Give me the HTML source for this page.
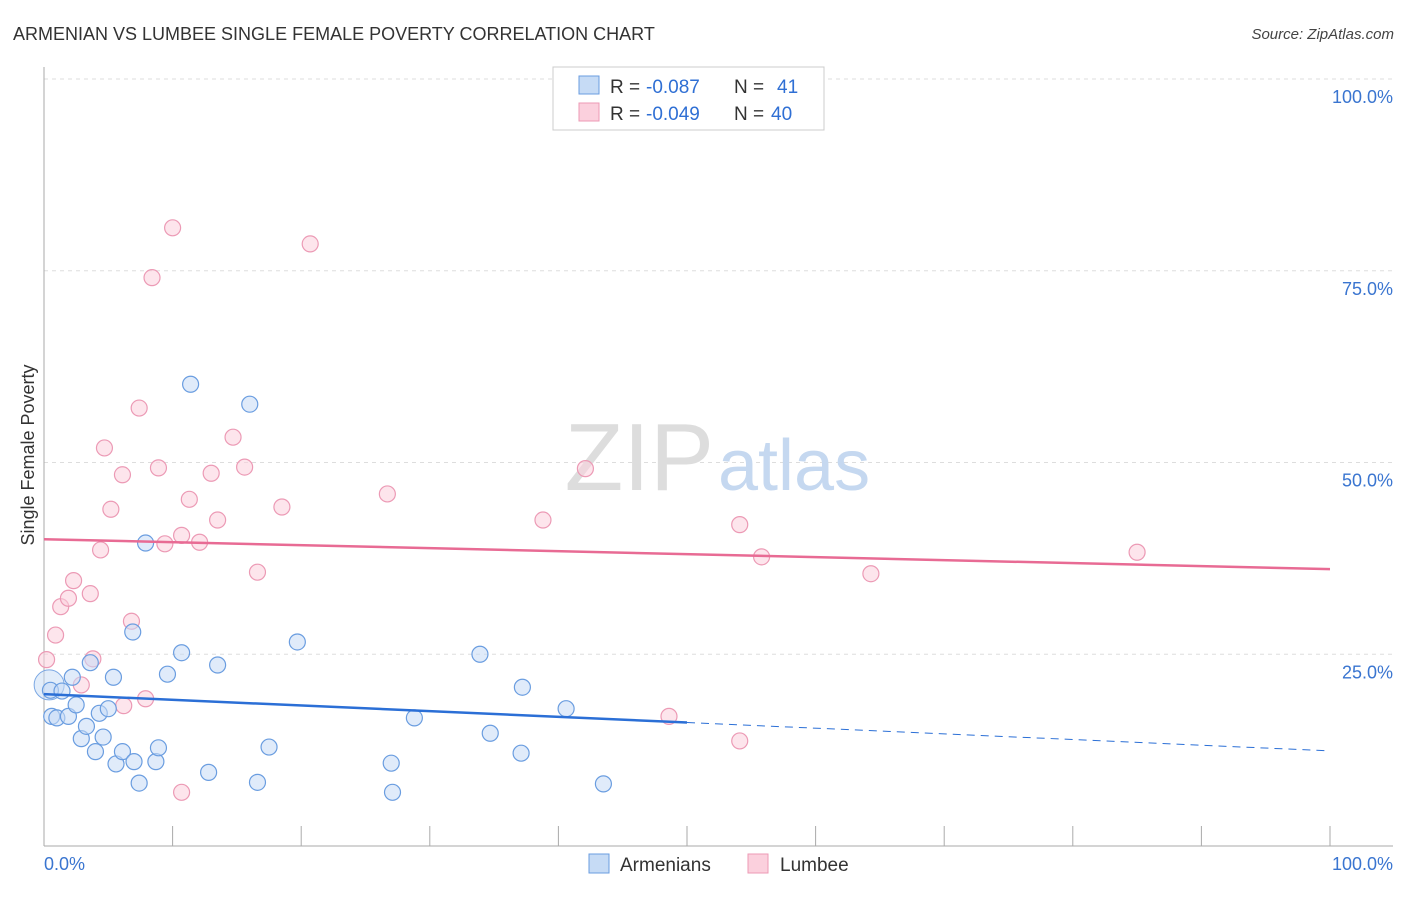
<!DOCTYPE html>
<html><head><meta charset="utf-8"><style>
body{margin:0;background:#fff;font-family:"Liberation Sans",sans-serif;}
svg text{font-family:"Liberation Sans",sans-serif;}
</style></head><body>
<svg id="chart" width="1406" height="892">
<text x="13" y="40" font-size="18" fill="#333">ARMENIAN VS LUMBEE SINGLE FEMALE POVERTY CORRELATION CHART</text>
<text x="1394" y="39" font-size="15" fill="#444" font-style="italic" text-anchor="end">Source: ZipAtlas.com</text>
<g id="grid"></g>
<text x="714" y="490" font-size="96" fill="#ddd" font-family="Liberation Serif" text-anchor="end">ZIP</text>
<text x="718" y="490" font-size="72" fill="#c5d8f0">atlas</text>
<text transform="translate(34,455) rotate(-90)" font-size="18" fill="#333" text-anchor="middle">Single Female Poverty</text>
<g id="marks"></g>
<text x="44" y="870" font-size="18" fill="#3a75d0">0.0%</text>
<text x="1393" y="870" font-size="18" fill="#3a75d0" text-anchor="end">100.0%</text>
<g>
<rect x="553" y="67" width="271" height="63" fill="#fff" stroke="#ccc"/>
<rect x="579" y="76" width="20" height="18" fill="#c6dbf5" stroke="#6a9de0"/>
<rect x="579" y="103" width="20" height="18" fill="#fbd0dd" stroke="#ec9ab5"/>
<text x="610" y="93" font-size="19" fill="#333">R =</text>
<text x="646" y="93" font-size="19" fill="#2f6fd4">-0.087</text>
<text x="734" y="93" font-size="19" fill="#333">N =</text>
<text x="777" y="93" font-size="19" fill="#2f6fd4">41</text>
<text x="610" y="120" font-size="19" fill="#333">R =</text>
<text x="646" y="120" font-size="19" fill="#2f6fd4">-0.049</text>
<text x="734" y="120" font-size="19" fill="#333">N =</text>
<text x="771" y="120" font-size="19" fill="#2f6fd4">40</text>
</g>
<g>
<rect x="589" y="854" width="20" height="19" fill="#c6dbf5" stroke="#6a9de0"/>
<text x="620" y="871" font-size="19" fill="#333">Armenians</text>
<rect x="748" y="854" width="20" height="19" fill="#fbd0dd" stroke="#ec9ab5"/>
<text x="780" y="871" font-size="19" fill="#333">Lumbee</text>
</g>
</svg>
<script>
const yTicks=[25,50,75,100];
const yTickLabels=["25.0%","50.0%","75.0%","100.0%"];
const xTicks=[0,10,20,30,40,50,60,70,80,90,100];
const armX=[0.5,0.6,1.0,1.4,1.9,2.2,2.5,2.9,3.3,3.6,4.0,4.3,4.6,5.0,5.4,5.6,6.1,7.0,6.9,7.4,7.9,8.7,8.9,9.6,10.7,11.4,12.8,13.5,16.0,16.6,17.5,19.7,27.0,27.1,28.8,33.9,34.7,37.1,37.2,40.6,43.5];
const armY=[20.3,16.9,16.7,20.2,16.9,22.0,18.4,14.0,15.6,23.9,12.3,17.3,14.2,17.9,22.0,10.7,12.3,11.0,27.9,8.2,39.5,11.0,12.8,22.4,25.2,60.2,9.6,23.6,57.6,8.3,12.9,26.6,10.8,7.0,16.7,25.0,14.7,12.1,20.7,17.9,8.1];
const lumX=[0.2,0.9,1.3,1.9,2.3,2.9,3.6,3.8,4.4,4.7,5.2,6.1,6.2,6.8,7.4,7.9,8.4,8.9,9.4,10.0,10.7,10.7,11.3,12.1,13.0,13.5,14.7,15.6,16.6,18.5,20.7,26.7,38.8,42.1,48.6,54.1,54.1,55.8,64.3,85.0];
const lumY=[24.3,27.5,31.2,32.3,34.6,21.0,32.9,24.4,38.6,51.9,43.9,48.4,18.3,29.3,57.1,19.2,74.1,49.3,39.4,80.6,40.5,7.0,45.2,39.6,48.6,42.5,53.3,49.4,35.7,44.2,78.5,45.9,42.5,49.2,16.9,41.9,13.7,37.7,35.5,38.3];
const armTrend=[19.8,12.4];
const lumTrend=[40.0,36.1];
const armSolidEnd=50;
const X=v=>44+v*12.86, Y=v=>846-v*7.67;
const NS="http://www.w3.org/2000/svg";
const g=document.getElementById('grid'), m=document.getElementById('marks');
function mk(tag,attrs,parent){const e=document.createElementNS(NS,tag);for(const k in attrs)e.setAttribute(k,attrs[k]);parent.appendChild(e);return e;}
yTicks.forEach((t,i)=>{
 const l=mk('line',{x1:44,x2:1393,y1:Y(t),y2:Y(t),stroke:'#ddd','stroke-dasharray':'4,4'},g);
 
 
 const tx=mk('text',{x:1393,y:Y(t)+24,'font-size':18,fill:'#3a75d0','text-anchor':'end'},g);
 tx.textContent=yTickLabels[i];
 
 
});
const ax=mk('line',{x1:44,x2:44,y1:67,y2:846,stroke:'#aaa'},g);


const bx=mk('line',{x1:44,x2:1393,y1:846,y2:846,stroke:'#aaa'},g);


xTicks.forEach(t=>{
 const l=mk('line',{x1:X(t),x2:X(t),y1:826,y2:846,stroke:'#aaa'},g);
 
 
});
function pts(xs,ys,fill,stroke,name){
 xs.forEach((x,i)=>{
  const c=mk('circle',{cx:X(x),cy:Y(ys[i]),r:8,fill:fill,'fill-opacity':0.55,stroke:stroke,'stroke-width':1.2},m);
  
  
 });
}
const big=mk('circle',{cx:X(0.4),cy:Y(21),r:15,fill:'#c6dbf5','fill-opacity':0.5,stroke:'#7aa7e3'},m);


pts(lumX,lumY,'#fbd0dd','#ec9ab5','lumbee-point');
pts(armX,armY,'#c6dbf5','#6a9de0','armenian-point');
const at=v=>armTrend[0]+(armTrend[1]-armTrend[0])*v/100;
const l1=mk('line',{x1:X(0),y1:Y(at(0)),x2:X(armSolidEnd),y2:Y(at(armSolidEnd)),stroke:'#2b6fd6','stroke-width':2.5},m);


const l2=mk('line',{x1:X(armSolidEnd),y1:Y(at(armSolidEnd)),x2:X(100),y2:Y(at(100)),stroke:'#2b6fd6','stroke-width':1,'stroke-dasharray':'8,6'},m);


const l3=mk('line',{x1:X(0),y1:Y(lumTrend[0]),x2:X(100),y2:Y(lumTrend[1]),stroke:'#e86b94','stroke-width':2.5},m);


</script>
</body></html>
